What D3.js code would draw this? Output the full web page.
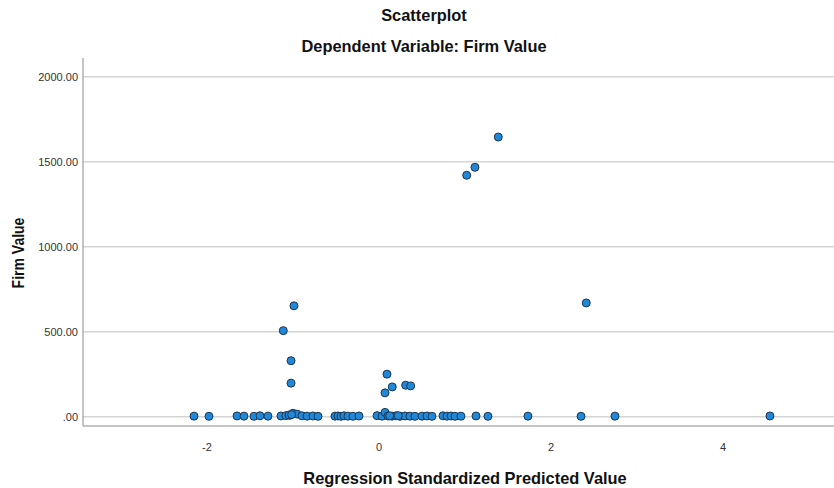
<!DOCTYPE html>
<html>
<head>
<meta charset="utf-8">
<script src="https://cdn.jsdelivr.net/npm/d3@7"></script>
<style>
  html, body { margin: 0; padding: 0; background: #fff; }
  svg { display: block; font-family: "Liberation Sans", Arial, sans-serif; }
</style>
</head>
<body>
<svg id="chart" width="834" height="488"></svg>
<script>
// Regression standardized predicted value (x) and Firm Value (y)
const predicted = [
  -2.145, -1.971, -1.645, -1.564, -1.448, -1.378, -1.285, -1.134, -1.076, -1.029,
  -0.994, -0.948, -0.890, -0.831, -0.762, -0.703, -0.506, -0.471, -0.436, -0.401,
  -0.355, -0.297, -0.227, -0.017, 0.041, 0.076, 0.110, 0.157, 0.203, 0.250,
  0.308, 0.366, 0.424, 0.506, 0.564, 0.622, 0.750, 0.797, 0.843, 0.890,
  0.959, 1.134, 1.273, 1.738, 2.355, 2.750, 4.552,
  -1.040, -1.010, 0.130, 0.230,
  -0.983, -1.107, -1.017, -1.017, 0.099, 0.076, 0.160, 0.316, 0.374,
  1.393, 1.122, 1.026, 2.416
];
const firmValue = [
  3, 2, 4, 3, 2, 5, 3, 4, 6, 8,
  20, 15, 5, 3, 4, 2, 3, 4, 2, 5,
  3, 2, 4, 6, 3, 25, 4, 3, 5, 2,
  4, 3, 2, 3, 4, 2, 5, 3, 4, 2,
  3, 4, 2, 3, 2, 3, 4,
  10, 12, 5, 6,
  652, 506, 329, 197, 250, 140, 175, 185, 181,
  1645, 1467, 1420, 669
];
const yTicks = [0, 500, 1000, 1500, 2000];
const yTickLabels = [".00", "500.00", "1000.00", "1500.00", "2000.00"];
const xTicks = [-2, 0, 2, 4];

const titleText = "Scatterplot";
const subtitleText = "Dependent Variable: Firm Value";
const xTitle = "Regression Standardized Predicted Value";
const yTitle = "Firm Value";

const svg = d3.select("#chart");
const mLeft = 83, mRight = 834, mTop = 58, mBottom = 426;

const x = d3.scaleLinear().domain([-3.436, 5.297]).range([mLeft, mRight]);
const y = d3.scaleLinear().domain([-55, 2110]).range([mBottom, mTop]);

// titles
svg.append("text").attr("x", 424).attr("y", 21).attr("text-anchor", "middle")
  .attr("font-size", 16.4).attr("font-weight", "bold").attr("fill", "#111").text(titleText);
svg.append("text").attr("x", 424).attr("y", 52).attr("text-anchor", "middle")
  .attr("font-size", 16.4).attr("font-weight", "bold").attr("fill", "#111").text(subtitleText);

// gridlines
svg.append("g").selectAll("line").data(yTicks).join("line")
  .attr("x1", mLeft).attr("x2", mRight)
  .attr("y1", d => y(d)).attr("y2", d => y(d))
  .attr("stroke", "#d4d4d4").attr("stroke-width", 1.5);

// axes
const yAxis = d3.axisLeft(y).tickValues(yTicks)
  .tickFormat((d, i) => yTickLabels[i]).tickSize(0).tickPadding(5);
const gy = svg.append("g").attr("transform", `translate(${mLeft},0)`).call(yAxis);
gy.select(".domain").attr("stroke", "#8a8a8a").attr("d", `M0,${mTop}V${mBottom}`);
gy.selectAll("text").attr("font-size", 11).attr("fill", "#333")
  .attr("font-family", "Liberation Sans, Arial, sans-serif");

const xAxis = d3.axisBottom(x).tickValues(xTicks).tickFormat(d => String(d))
  .tickSize(0).tickPadding(17);
const gx = svg.append("g").attr("transform", `translate(0,${mBottom})`).call(xAxis);
gx.select(".domain").attr("stroke", "#8a8a8a").attr("d", `M${mLeft},0H${mRight}`);
gx.selectAll("text").attr("font-size", 11).attr("fill", "#333")
  .attr("font-family", "Liberation Sans, Arial, sans-serif");

// axis titles
svg.append("text").attr("x", 465).attr("y", 484).attr("text-anchor", "middle")
  .attr("font-size", 16.4).attr("font-weight", "bold").attr("fill", "#111").text(xTitle);
svg.append("text").attr("transform", "translate(24,253) rotate(-90) scale(0.854,1)")
  .attr("text-anchor", "middle").attr("font-size", 16.4).attr("font-weight", "bold")
  .attr("fill", "#111").text(yTitle);

// points
const pts = predicted.map((p, i) => ({ p, v: firmValue[i] }));
svg.append("g").selectAll("circle").data(pts).join("circle")
  .attr("cx", d => x(d.p)).attr("cy", d => y(d.v)).attr("r", 4)
  .attr("fill", "#1f88d9").attr("stroke", "#1d3550").attr("stroke-width", 1);
</script>
</body>
</html>
